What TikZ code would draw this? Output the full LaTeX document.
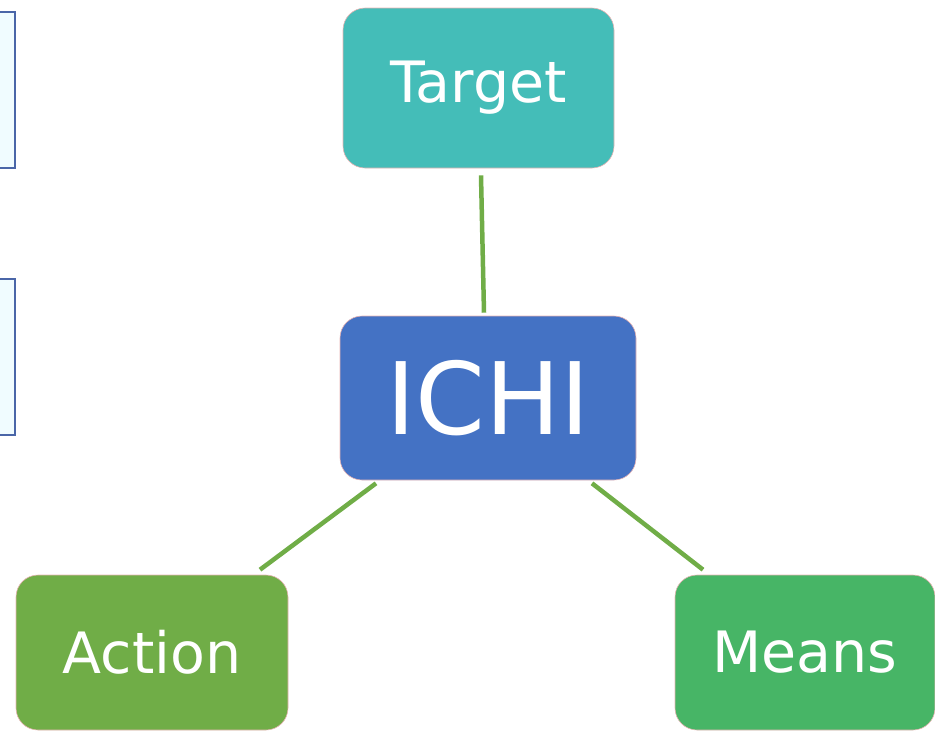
\documentclass[tikz,border=0pt]{standalone}
\usepackage{fontspec}
\setmainfont{DejaVu Sans}
\definecolor{targetcol}{HTML}{44BDB8}
\definecolor{ichicol}{HTML}{4472C4}
\definecolor{actioncol}{HTML}{70AD47}
\definecolor{meanscol}{HTML}{47B566}
\definecolor{linkcol}{HTML}{70AD47}
\definecolor{rimcol}{HTML}{E8B4B4}
\definecolor{sidefill}{HTML}{F0FCFF}
\definecolor{sidedraw}{HTML}{4A66A8}
\begin{document}
\begin{tikzpicture}
    [
        x=1pt, y=-1pt,
        box/.style={rectangle, rounded corners=22pt, draw=rimcol, line width=0.6pt,
            text=white, inner sep=0pt, minimum width=#1},
        box/.default=272pt,
        big/.style={font=\fontsize{57}{60}\selectfont},
        link/.style={draw=linkcol, line width=4.5pt},
        side/.style={fill=sidefill, draw=sidedraw, line width=1.6pt},
    ]

    \useasboundingbox (0,0) rectangle (935,732);

    % partial boxes on the left
    \path[side] (-20,12) rectangle (15,168);
    \path[side] (-20,279) rectangle (15,435);

    % nodes
    \node (target) at (478.5,88) [box=271pt, fill=targetcol, minimum height=160pt, big] {Target};
    \node (ichi)   at (488,398)  [box=296pt, fill=ichicol, minimum height=164pt,
                                  font=\fontsize{100}{104}\selectfont] {ICHI};
    \node (action) at (152,652.5) [box=272pt, fill=actioncol, minimum height=155pt, big] {Action};
    \node (means)  at (805,652.5) [box=260pt, fill=meanscol, minimum height=155pt, big] {Means};

    % links
    \path
    ([xshift=2.5pt,yshift=-7pt]target.south) edge [link] ([xshift=-4pt,yshift=3pt]ichi.north)
    ([xshift=-112pt,yshift=-3pt]ichi.south)  edge [link] ([xshift=108pt,yshift=5pt]action.north)
    ([xshift=104pt,yshift=-3pt]ichi.south)   edge [link] ([xshift=-102pt,yshift=5pt]means.north);

\end{tikzpicture}
\end{document}
